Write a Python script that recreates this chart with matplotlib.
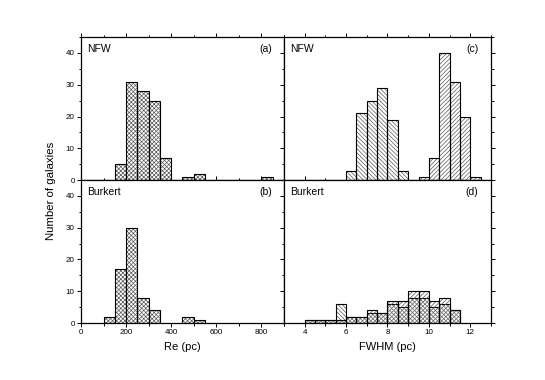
import matplotlib
matplotlib.use("Agg")
import matplotlib.pyplot as plt
from matplotlib.ticker import MultipleLocator

plt.rcParams['font.family'] = ['Liberation Sans', 'DejaVu Sans']
plt.rcParams['hatch.linewidth'] = 0.5

# Re histograms (bin width 50 pc), left edges and counts
re_nfw_edges = [150, 200, 250, 300, 350, 450, 500, 800]
re_nfw_counts = [5, 31, 28, 25, 7, 1, 2, 1]
re_bur_edges = [100, 150, 200, 250, 300, 450, 500]
re_bur_counts = [2, 17, 30, 8, 4, 2, 1]

# FWHM histograms (bin width 0.5 pc), two groups
fw_nfw_a_edges = [6.0, 6.5, 7.0, 7.5, 8.0, 8.5]
fw_nfw_a_counts = [3, 21, 25, 29, 19, 3]
fw_nfw_b_edges = [9.5, 10.0, 10.5, 11.0, 11.5, 12.0]
fw_nfw_b_counts = [1, 7, 40, 31, 20, 1]

fw_bur_a_edges = [4.0, 4.5, 5.0, 5.5, 6.0, 6.5, 7.0, 7.5, 8.0, 8.5, 9.0, 9.5, 10.0, 10.5, 11.0]
fw_bur_a_counts = [1, 1, 1, 6, 2, 2, 3, 3, 6, 5, 8, 8, 5, 6, 4]
fw_bur_b_edges = [4.0, 4.5, 5.0, 5.5, 6.0, 6.5, 7.0, 7.5, 8.0, 8.5, 9.0, 9.5, 10.0, 10.5, 11.0]
fw_bur_b_counts = [1, 1, 1, 1, 2, 2, 4, 3, 7, 7, 10, 10, 7, 8, 4]

HATCH_GREY = '#5a5a5a'
BACK = '\\' * 8
FWD = '/' * 8
CROSS = 'x' * 8


def hist_bars(ax, edges, counts, width, hatch):
    # hatch pass in grey, then black outline on top
    ax.bar(edges, counts, width=width, align='edge', facecolor='none',
           edgecolor=HATCH_GREY, hatch=hatch, linewidth=0)
    ax.bar(edges, counts, width=width, align='edge', facecolor='none',
           edgecolor='black', linewidth=0.8)


fig = plt.figure(figsize=(5.45, 3.8), dpi=100)
x0, xm, x1 = 0.1486, 0.521, 0.901
y0, ym, y1 = 0.15, 0.526, 0.9026
ax_a = fig.add_axes([x0, ym, xm - x0, y1 - ym])
ax_b = fig.add_axes([x0, y0, xm - x0, ym - y0])
ax_c = fig.add_axes([xm, ym, x1 - xm, y1 - ym])
ax_d = fig.add_axes([xm, y0, x1 - xm, ym - y0])

hist_bars(ax_a, re_nfw_edges, re_nfw_counts, 50, CROSS)
hist_bars(ax_b, re_bur_edges, re_bur_counts, 50, CROSS)
hist_bars(ax_c, fw_nfw_a_edges, fw_nfw_a_counts, 0.5, BACK)
hist_bars(ax_c, fw_nfw_b_edges, fw_nfw_b_counts, 0.5, FWD)
hist_bars(ax_d, fw_bur_a_edges, fw_bur_a_counts, 0.5, BACK)
hist_bars(ax_d, fw_bur_b_edges, fw_bur_b_counts, 0.5, FWD)

for ax in (ax_a, ax_b):
    ax.set_xlim(0, 900)
    ax.xaxis.set_major_locator(MultipleLocator(200))
    ax.xaxis.set_minor_locator(MultipleLocator(100))
for ax in (ax_c, ax_d):
    ax.set_xlim(3, 13)
    ax.xaxis.set_major_locator(MultipleLocator(2))
    ax.xaxis.set_minor_locator(MultipleLocator(1))

for ax in (ax_a, ax_b, ax_c, ax_d):
    ax.set_ylim(0, 45)
    ax.yaxis.set_major_locator(MultipleLocator(10))
    ax.yaxis.set_minor_locator(MultipleLocator(5))
    ax.tick_params(which='both', direction='out', top=True, right=True,
                   labelsize=5.8, width=0.7, pad=1.5)
    ax.tick_params(which='major', length=3)
    ax.tick_params(which='minor', length=1.8)
    for s in ax.spines.values():
        s.set_linewidth(0.9)

ax_a.tick_params(labelbottom=False)
ax_c.tick_params(labelbottom=False, labelleft=False)
ax_d.tick_params(labelleft=False)

for ax, name, tag in ((ax_a, 'NFW', '(a)'), (ax_b, 'Burkert', '(b)'),
                      (ax_c, 'NFW', '(c)'), (ax_d, 'Burkert', '(d)')):
    ax.text(0.03, 0.915, name, transform=ax.transAxes, fontsize=7.5,
            ha='left', va='center')
    ax.text(0.94, 0.915, tag, transform=ax.transAxes, fontsize=7.5,
            ha='right', va='center')

ax_b.set_xlabel('Re (pc)', fontsize=8, labelpad=4)
ax_d.set_xlabel('FWHM (pc)', fontsize=8, labelpad=4)
fig.text(0.094, 0.497, 'Number of galaxies', rotation=90, fontsize=8.2,
         ha='center', va='center')

fig.savefig('out.png', dpi=100)
